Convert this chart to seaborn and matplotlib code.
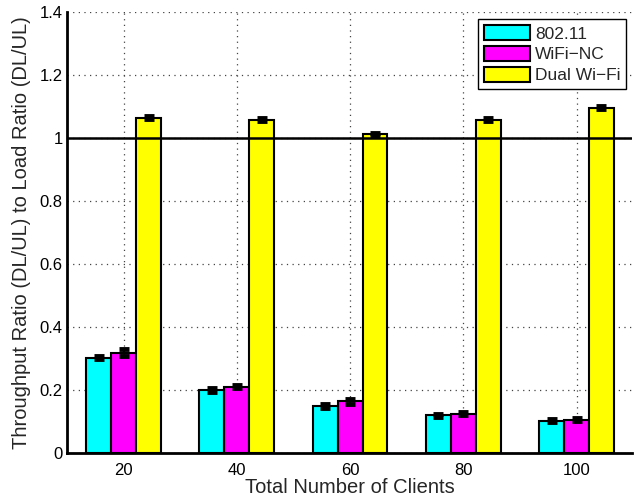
import matplotlib
matplotlib.use("Agg")
import matplotlib.pyplot as plt
import seaborn as sns
import pandas as pd
import numpy as np

clients = ["20", "40", "60", "80", "100"]
series = ["802.11", "WiFi\u2212NC", "Dual Wi\u2212Fi"]
v_80211 = [0.303, 0.200, 0.150, 0.120, 0.102]
v_wifinc = [0.318, 0.211, 0.164, 0.125, 0.106]
v_dual = [1.065, 1.058, 1.012, 1.058, 1.096]
e_80211 = [0.006, 0.005, 0.006, 0.005, 0.005]
e_wifinc = [0.011, 0.006, 0.007, 0.005, 0.005]
e_dual = [0.004, 0.004, 0.005, 0.004, 0.004]
colors = ["#00FFFF", "#FF00FF", "#FFFF00"]
yticks = [0, 0.2, 0.4, 0.6, 0.8, 1.0, 1.2, 1.4]
ytick_labels = ["0", "0.2", "0.4", "0.6", "0.8", "1", "1.2", "1.4"]

sns.set_style("white")
plt.rcParams["font.family"] = ["Liberation Sans", "DejaVu Sans"]

rows = []
for vals, name in zip([v_80211, v_wifinc, v_dual], series):
    for c, v in zip(clients, vals):
        rows.append({"clients": c, "series": name, "value": v})
df = pd.DataFrame(rows)

fig = plt.figure(figsize=(6.34, 4.98), dpi=100)
ax = fig.add_axes([67 / 634, (498 - 453) / 498, (632 - 67) / 634, (453 - 12) / 498])

sns.barplot(data=df, x="clients", y="value", hue="series", order=clients,
            hue_order=series, palette=colors, width=0.66, errorbar=None,
            edgecolor="black", linewidth=1.5, saturation=1, ax=ax, zorder=3)

errs = [e_80211, e_wifinc, e_dual]
for cont, err in zip(ax.containers, errs):
    xs = [p.get_x() + p.get_width() / 2 for p in cont]
    ys = [p.get_height() for p in cont]
    ax.errorbar(xs, ys, yerr=err, fmt="none", ecolor="black", elinewidth=1.5,
                capsize=3.6, capthick=3.5, zorder=4)

ax.axhline(1.0, color="black", lw=1.8, zorder=5)

ax.set_xlim(-0.5, 4.49)
ax.set_ylim(0, 1.4)
ax.set_yticks(yticks)
ax.set_yticklabels(ytick_labels)
ax.grid(True, linestyle=(0, (1, 3.5)), color="#444444", linewidth=0.9, zorder=0)
ax.set_axisbelow(True)
for s in ["top", "right"]:
    ax.spines[s].set_visible(False)
for s in ["left", "bottom"]:
    ax.spines[s].set_linewidth(2)
    ax.spines[s].set_color("black")
    ax.spines[s].set_zorder(6)
ax.tick_params(axis="both", direction="in", length=4, width=1, labelsize=12, colors="black")
ax.tick_params(axis="x", pad=7)
ax.tick_params(axis="y", pad=3)
ax.set_xlabel("Total Number of Clients", fontsize=14.5, labelpad=0)
ax.set_ylabel("Throughput Ratio (DL/UL) to Load Ratio (DL/UL)", fontsize=14.5, labelpad=6)

handles, labels = ax.get_legend_handles_labels()
ax.legend(handles, labels, loc="upper right", bbox_to_anchor=(0.99, 0.984),
          fontsize=12.5, frameon=True, fancybox=False, edgecolor="black",
          framealpha=1, borderpad=0.35, handlelength=2.65, handleheight=0.95,
          handletextpad=0.25, labelspacing=0.25, borderaxespad=0)
ax.get_legend().get_frame().set_linewidth(1.0)

fig.savefig("out.png", dpi=100)
